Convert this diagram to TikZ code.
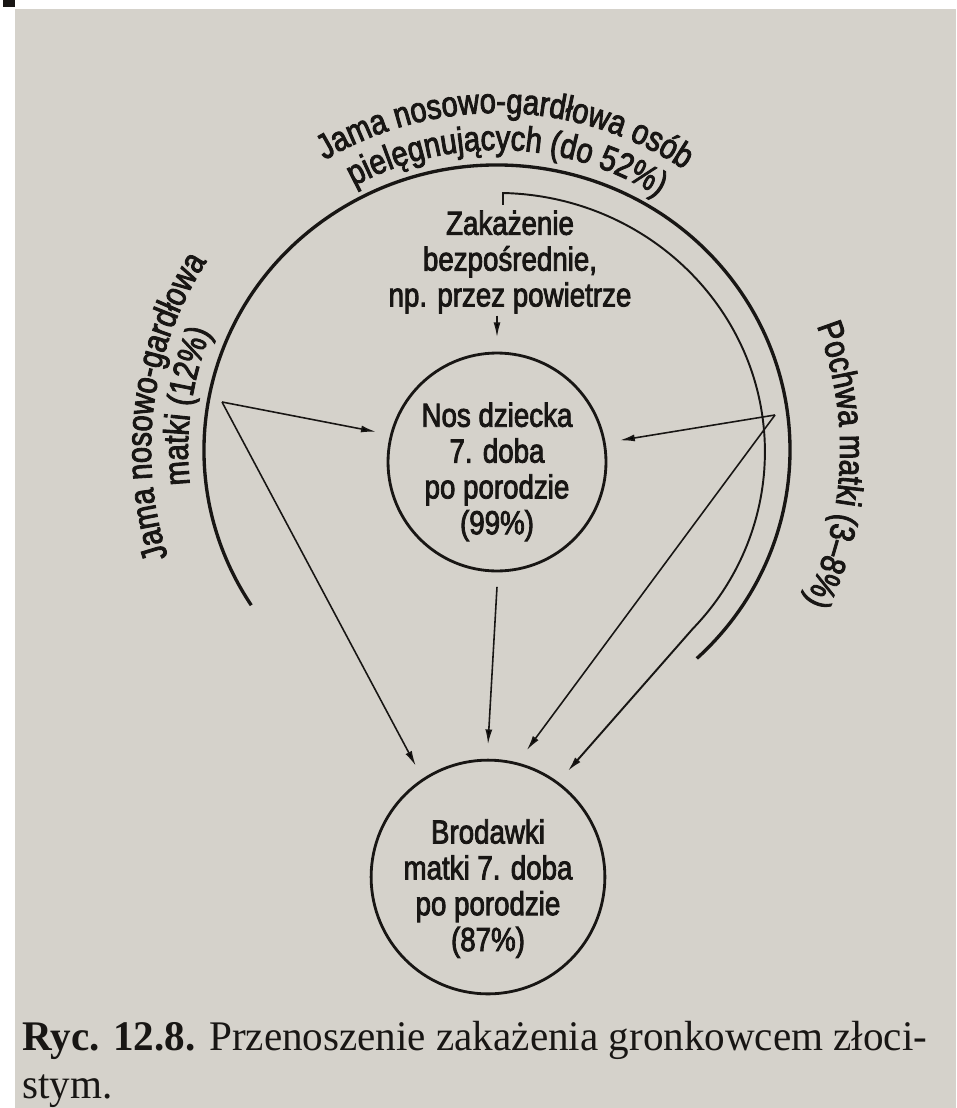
\documentclass[tikz,border=0pt]{standalone}
\usepackage{fontspec}
\setmainfont{Liberation Serif}[FakeStretch=0.975]
\newfontfamily\labfont[FakeStretch=0.83, RawFeature={embolden=2.5}]{Liberation Sans}
\usetikzlibrary{arrows.meta}
\usetikzlibrary{decorations.text}
\definecolor{paper}{RGB}{213,210,203}
\definecolor{ink}{RGB}{24,22,20}
\newcommand{\lab}{\labfont\fontsize{19}{20.4}\selectfont}
\newcommand{\labarc}{\labfont\fontsize{20}{22}\selectfont}

\tikzset{
  spot/.style={circle, draw=ink, line width=1.6pt, minimum size=4.2cm, inner sep=0pt, outer sep=9pt, align=center, font=\lab, text=ink},
  arr/.style={draw=ink, line width=0.9pt, -{Latex[length=8.5pt,width=4pt]}},
  bigarc/.style={draw=ink, line width=1.9pt},
  curved/.style={decorate, decoration={text along path, text align=center, text color=ink, text={#1}}},
  capt/.style={anchor=base west, inner sep=0pt, text=ink, font=\fontsize{24}{27}\selectfont}
}

\begin{document}
\begin{tikzpicture}[x=0.02cm, y=0.02cm]

\fill[white] (0,0) rectangle (956,-1108);
\fill[paper] (15,-9) rectangle (956,-1108);
\fill[ink] (3,0) rectangle (15,-7);
\useasboundingbox (0,0) rectangle (956,-1108);

\coordinate (ctr) at (497,-450);
\coordinate (lv) at (222,-402);
\coordinate (rv) at (775,-415);
\coordinate (tick) at (503,-205);

\node[spot] (nos) at (497,-462) {\rule{0pt}{25pt}Nos dziecka\\7. doba\\po porodzie\\(99\%)};
\node[spot, minimum size=4.16cm] (brod) at (488,-877) {\rule{0pt}{27pt}Brodawki\\matki 7. doba\\po porodzie\\(87\%)};
\node[align=center, font=\lab, text=ink, inner sep=1pt] (zak) at (510,-262) {Zakażenie\\bezpośrednie,\\np. przez powietrze};

\draw[bigarc] ([shift={(213:293 and 285)}]ctr) arc[start angle=213, end angle=-47, x radius=293, y radius=285];

\path[curved={|\labarc|Jama nosowo-gardłowa osób}] ([shift={(150:337)}]ctr) arc[start angle=150, end angle=27, radius=337];
\path[curved={|\labarc|pielęgnujących (do 52{\%})}] ([shift={(148:300)}]ctr) arc[start angle=148, end angle=28, radius=300];
\path[curved={|\labarc|Jama nosowo-gardłowa}] ([shift={(232:346)}]ctr) arc[start angle=232, end angle=113, radius=346];
\path[curved={|\labarc|matki (12{\%})}] ([shift={(232:309)}]ctr) arc[start angle=232, end angle=112, radius=309];
\path[curved={|\labarc|Pochwa matki (3–8{\%})}] ([shift={(57:343)}]ctr) arc[start angle=57, end angle=-62, radius=343];

\draw[arr] (nos.north |- zak.south) -- (nos.north);
\draw[arr] (nos.south) -- (brod.north);
\draw[arr] (lv) -- (nos.166);
\draw[arr] (lv) -- (brod.123);
\draw[arr] (rv) -- (nos.10);
\draw[arr] (rv) -- (brod.73);

\draw[arr, line width=1.1pt] (tick) -- ++(0,12) arc[start angle=88.7, end angle=-43, x radius=268, y radius=259] -- (brod.53);

\node[capt] (cap) at (22,-1050) {\textbf{Ryc. 12.8.} Przenoszenie zakażenia gronkowcem złoci-};
\node[capt] (cap2) at (22,-1098) {stym.};

\end{tikzpicture}
\end{document}
